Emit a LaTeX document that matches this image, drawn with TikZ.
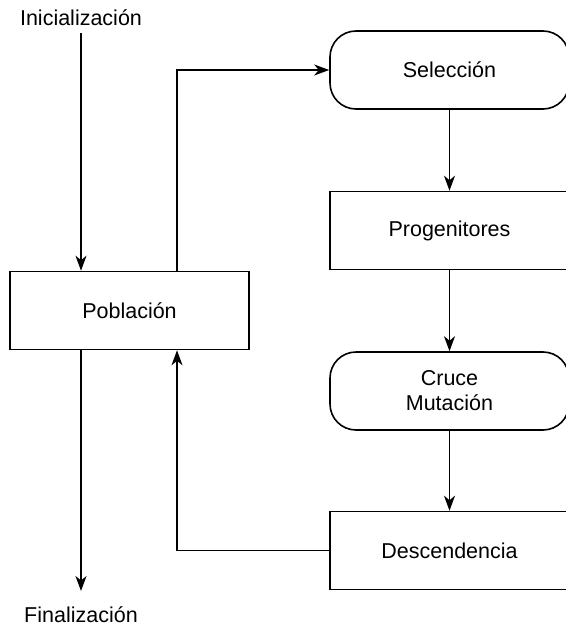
\documentclass[tikz,border=0pt]{standalone}
\usepackage{fontspec}
\setmainfont{Liberation Sans}
\usetikzlibrary{arrows.meta}
\begin{document}
\begin{tikzpicture}[x=1pt,y=-1pt,
  every node/.style={font=\fontsize{21.5}{25}\selectfont},
  boxnode/.style={draw,line width=1.6pt,minimum width=239pt,minimum height=78pt,inner sep=0pt,align=center},
  roundnode/.style={boxnode,rounded corners=26pt},
  lbl/.style={inner sep=0pt},
  arr/.style={line width=1.6pt,-{Stealth[length=15pt,width=11pt,inset=4.5pt]}},
  ln/.style={line width=1.6pt}]
\useasboundingbox (0,0) rectangle (565,626);
\node[boxnode] (pob) at (129.5,310.5) {Población};
\node[roundnode] (sel) at (449.5,70) {Selección};
\node[boxnode] (prog) at (449.5,230.5) {Progenitores};
\node[roundnode] (cru) at (449.5,391) {Cruce\\Mutación};
\node[boxnode] (desc) at (449.5,550.5) {Descendencia};
\node[lbl] (ini) at (81,18) {Inicialización};
\node[lbl] (fin) at (81,615) {Finalización};
\coordinate (lp) at (177,0);
\coordinate (ip) at (81,33);
\coordinate (fp) at (81,591);
\draw[arr] (ip) -- (ip |- pob.north);
\draw[arr] (pob.north -| lp) |- (sel.west);
\draw[arr] (sel) -- (prog);
\draw[arr] (prog) -- (cru);
\draw[arr] (cru) -- (desc);
\draw[arr] (desc.west) -| (pob.south -| lp);
\draw[arr] (pob.south -| ip) -- (fp);
\end{tikzpicture}
\end{document}
